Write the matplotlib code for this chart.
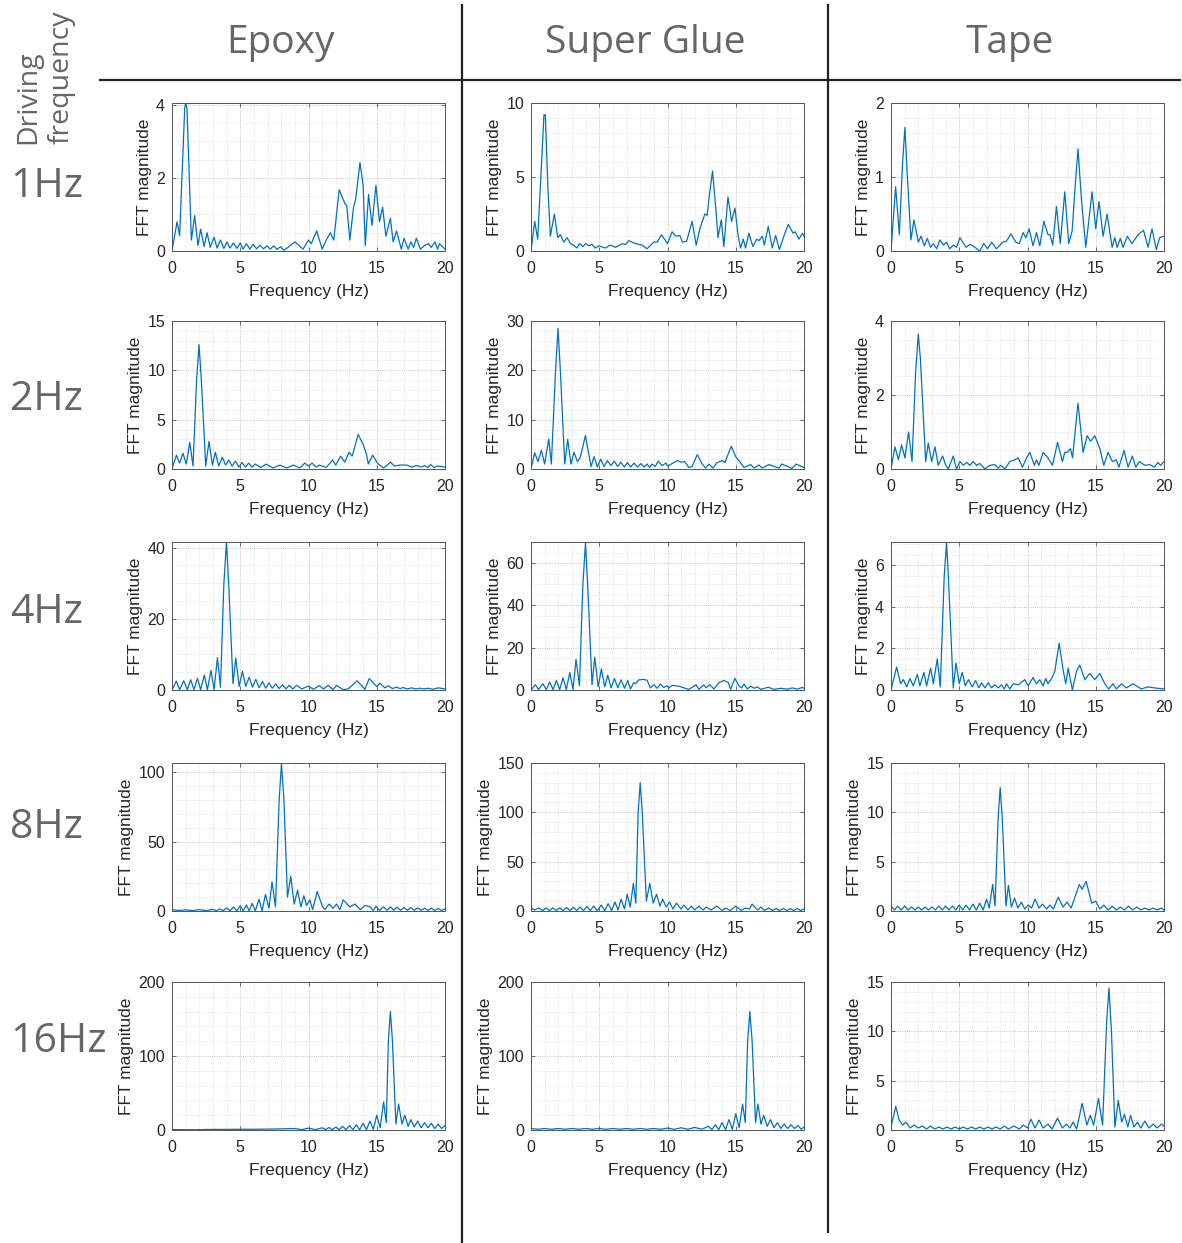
"""FFT magnitude grid: adhesive type (columns) vs driving frequency (rows)."""

import matplotlib
matplotlib.use("Agg")
import matplotlib.pyplot as plt
import numpy as np
from matplotlib.lines import Line2D
from matplotlib.ticker import AutoMinorLocator

W, H = 1182, 1243

MATERIALS = ["Epoxy", "Super Glue", "Tape"]
DRIVING = ["1Hz", "2Hz", "4Hz", "8Hz", "16Hz"]

# (frequency Hz, FFT magnitude)
EPOXY_1HZ = [(0, 0), (0.37, 0.8), (0.56, 0.42), (0.93, 3.9), (1.0, 4.05), (1.1, 3.9), (1.42, 0.3), (1.66, 0.97),
             (1.9, 0.15), (2.1, 0.6), (2.35, 0.12), (2.57, 0.5), (2.8, 0.1), (3.08, 0.38), (3.3, 0.08), (3.55, 0.3),
             (3.8, 0.07), (4.03, 0.25), (4.25, 0.08), (4.5, 0.22), (4.75, 0.07), (5.0, 0.22), (5.2, 0.05), (5.45, 0.2),
             (5.7, 0.05), (5.95, 0.18), (6.2, 0.06), (6.45, 0.16), (6.7, 0.06), (6.95, 0.14), (7.2, 0.05), (7.45, 0.14),
             (7.7, 0.04), (7.95, 0.12), (8.2, 0.02), (8.5, 0.1), (9.0, 0.25), (9.6, 0.05), (10.0, 0.3), (10.2, 0.2),
             (10.6, 0.55), (11.0, 0.05), (11.3, 0.3), (11.6, 0.5), (11.85, 0.3), (12.25, 1.68), (12.66, 1.3),
             (12.8, 1.25), (13.03, 0.3), (13.3, 1.2), (13.45, 1.4), (13.77, 2.42), (14.0, 1.8), (14.16, 0.15),
             (14.4, 1.55), (14.65, 0.7), (14.94, 1.8), (15.2, 0.8), (15.43, 1.2), (15.67, 0.4), (16.0, 0.9),
             (16.2, 0.25), (16.45, 0.55), (16.8, 0.05), (17.0, 0.35), (17.3, 0.05), (17.5, 0.25), (17.7, 0.1),
             (17.9, 0.35), (18.2, 0.05), (18.5, 0.15), (18.8, 0.2), (19.0, 0.1), (19.27, 0.25), (19.45, 0.05),
             (19.6, 0.2), (20.0, 0.05)]
GLUE_1HZ = [(0, 0), (0.27, 2.0), (0.49, 0.8), (0.75, 5.5), (0.95, 9.2), (1.05, 9.2), (1.25, 4.0), (1.42, 1.0),
            (1.71, 2.5), (1.96, 0.9), (2.15, 1.1), (2.4, 0.6), (2.64, 0.9), (2.9, 0.5), (3.1, 0.4), (3.37, 0.2),
            (3.55, 0.5), (3.8, 0.3), (4.0, 0.5), (4.25, 0.35), (4.47, 0.45), (4.7, 0.2), (4.96, 0.35), (5.45, 0.2),
            (5.8, 0.4), (6.2, 0.25), (6.7, 0.5), (6.95, 0.45), (7.16, 0.7), (7.65, 0.5), (8.14, 0.4), (8.5, 0.15),
            (9.0, 0.6), (9.25, 0.6), (9.56, 1.1), (10.0, 0.5), (10.34, 1.3), (10.6, 1.0), (10.9, 1.05), (11.1, 0.6),
            (11.4, 0.65), (11.8, 2.0), (12.1, 0.4), (12.4, 1.6), (12.74, 2.5), (12.9, 2.4), (13.1, 4.0), (13.3, 5.4),
            (13.57, 2.5), (13.7, 0.9), (13.94, 2.1), (14.13, 0.3), (14.43, 3.65), (14.7, 2.0), (14.94, 2.9),
            (15.18, 1.0), (15.35, 0.2), (15.55, 0.8), (15.72, 0.2), (15.96, 1.2), (16.26, 0.3), (16.53, 0.8),
            (16.7, 0.7), (16.94, 1.0), (17.1, 0.4), (17.38, 1.65), (17.68, 0.2), (17.92, 1.05), (18.2, 0.1),
            (18.6, 1.2), (18.85, 1.8), (19.2, 1.2), (19.35, 1.3), (19.63, 0.8), (19.88, 1.2), (20.0, 1.0)]
TAPE_1HZ = [(0, 0), (0.34, 0.87), (0.61, 0.22), (0.85, 1.2), (1.02, 1.67), (1.2, 1.0), (1.46, 0.15), (1.68, 0.42),
            (2.0, 0.12), (2.2, 0.2), (2.44, 0.07), (2.66, 0.17), (2.9, 0.05), (3.1, 0.1), (3.35, 0.03), (3.58, 0.15),
            (3.85, 0.08), (4.07, 0.12), (4.3, 0.03), (4.56, 0.08), (4.8, 0.05), (5.05, 0.18), (5.5, 0.05),
            (5.78, 0.09), (6.0, 0.07), (6.5, 0.0), (6.8, 0.1), (7.07, 0.03), (7.37, 0.12), (7.73, 0.03), (8.2, 0.12),
            (8.45, 0.13), (8.78, 0.23), (9.15, 0.12), (9.4, 0.1), (9.68, 0.25), (9.88, 0.18), (10.12, 0.3),
            (10.4, 0.07), (10.66, 0.25), (10.9, 0.07), (11.2, 0.4), (11.5, 0.22), (11.65, 0.22), (11.85, 0.08),
            (12.12, 0.6), (12.4, 0.1), (12.73, 0.8), (13.02, 0.1), (13.27, 0.27), (13.5, 0.9), (13.7, 1.38),
            (13.95, 0.7), (14.27, 0.05), (14.73, 0.8), (15.0, 0.3), (15.24, 0.67), (15.54, 0.2), (15.83, 0.5),
            (16.2, 0.05), (16.39, 0.18), (16.57, 0.05), (16.8, 0.17), (17.0, 0.05), (17.32, 0.2), (17.65, 0.1),
            (18.1, 0.22), (18.5, 0.28), (18.83, 0.05), (19.12, 0.3), (19.44, 0.02), (19.68, 0.18), (20.0, 0.2)]

EPOXY_2HZ = [(0, 0), (0.32, 1.4), (0.56, 0.6), (0.8, 1.6), (1.05, 0.5), (1.3, 2.7), (1.54, 0.3), (1.8, 9.0),
             (1.98, 12.6), (2.15, 9.0), (2.47, 0.3), (2.71, 2.8), (2.96, 0.4), (3.18, 1.7), (3.42, 0.3), (3.69, 1.2),
             (3.92, 0.4), (4.16, 0.9), (4.4, 0.3), (4.65, 0.8), (4.9, 0.2), (5.13, 0.65), (5.38, 0.2), (5.62, 0.6),
             (5.86, 0.2), (6.1, 0.5), (6.5, 0.15), (6.9, 0.5), (7.4, 0.1), (7.9, 0.4), (8.4, 0.1), (8.9, 0.4),
             (9.35, 0.1), (9.73, 0.6), (10.0, 0.3), (10.27, 0.6), (10.55, 0.2), (10.8, 0.4), (11.3, 0.15),
             (11.76, 0.9), (12.0, 0.4), (12.35, 1.3), (12.66, 0.7), (12.97, 1.7), (13.2, 1.3), (13.64, 3.5),
             (14.0, 2.5), (14.25, 1.5), (14.38, 0.5), (14.7, 1.4), (15.05, 0.6), (15.48, 0.1), (15.7, 0.3),
             (16.0, 0.7), (16.3, 0.3), (16.7, 0.4), (17.2, 0.4), (17.55, 0.2), (17.9, 0.35), (18.3, 0.2), (18.5, 0.35),
             (18.75, 0.15), (18.95, 0.45), (19.2, 0.15), (19.45, 0.3), (20.0, 0.2)]
GLUE_2HZ = [(0, 0), (0.27, 3.3), (0.51, 1.5), (0.76, 3.8), (1.0, 1.0), (1.3, 6.1), (1.49, 1.0), (1.8, 20.0),
            (1.98, 28.5), (2.15, 20.0), (2.47, 1.0), (2.69, 6.0), (2.93, 1.0), (3.15, 3.4), (3.4, 1.5), (3.6, 2.3),
            (3.99, 6.8), (4.2, 3.5), (4.4, 0.5), (4.62, 2.5), (4.86, 0.4), (5.11, 2.0), (5.35, 0.5), (5.6, 1.7),
            (5.85, 0.7), (6.1, 1.6), (6.35, 0.5), (6.58, 1.4), (6.83, 0.4), (7.07, 1.3), (7.3, 0.4), (7.55, 1.2),
            (7.8, 0.4), (8.04, 1.1), (8.3, 0.4), (8.5, 1.0), (8.7, 0.3), (8.87, 1.0), (9.1, 0.5), (9.32, 1.6),
            (9.6, 0.7), (9.9, 1.2), (10.0, 0.6), (10.34, 1.1), (10.7, 1.7), (11.0, 1.4), (11.27, 1.5), (11.56, 0.3),
            (11.8, 0.5), (12.18, 2.9), (12.55, 1.0), (12.8, 0.2), (13.04, 1.0), (13.33, 0.2), (13.64, 1.3),
            (14.0, 1.7), (14.2, 1.3), (14.67, 4.6), (15.0, 2.5), (15.23, 1.7), (15.6, 0.3), (16.1, 0.9), (16.33, 0.2),
            (16.7, 0.8), (16.94, 0.2), (17.43, 0.9), (18.05, 0.3), (18.17, 0.2), (18.36, 1.0), (18.9, 0.4),
            (19.1, 0.1), (19.44, 1.0), (20.0, 0.3)]
TAPE_2HZ = [(0, 0), (0.29, 0.6), (0.54, 0.25), (0.78, 0.65), (1.02, 0.3), (1.29, 1.0), (1.54, 0.2), (1.8, 2.6),
            (2.0, 3.65), (2.15, 3.0), (2.54, 0.2), (2.73, 0.7), (2.98, 0.2), (3.22, 0.6), (3.46, 0.1), (3.78, 0.35),
            (4.02, 0.1), (4.2, 0.0), (4.56, 0.35), (4.8, 0.0), (5.05, 0.2), (5.3, 0.1), (5.54, 0.18), (5.78, 0.1),
            (6.02, 0.2), (6.27, 0.1), (6.5, 0.15), (6.88, 0.0), (7.24, 0.1), (7.6, 0.12), (7.85, 0.02), (8.03, 0.1),
            (8.34, 0.0), (8.7, 0.2), (9.07, 0.25), (9.32, 0.3), (9.63, 0.05), (9.93, 0.3), (10.17, 0.45),
            (10.5, 0.1), (10.66, 0.25), (10.83, 0.1), (11.15, 0.45), (11.5, 0.3), (11.83, 0.1), (12.2, 0.72),
            (12.56, 0.2), (12.73, 0.45), (12.9, 0.45), (13.15, 0.55), (13.3, 0.3), (13.7, 1.78), (14.07, 0.45),
            (14.37, 0.9), (14.63, 0.75), (14.93, 0.9), (15.3, 0.55), (15.59, 0.1), (15.9, 0.45), (16.22, 0.2),
            (16.5, 0.25), (16.7, 0.05), (17.07, 0.5), (17.37, 0.05), (17.68, 0.35), (17.93, 0.05), (18.2, 0.2),
            (18.6, 0.1), (18.95, 0.12), (19.3, 0.05), (19.56, 0.18), (19.75, 0.1), (20.0, 0.2)]

EPOXY_4HZ = [(0, 0), (0.32, 2.5), (0.56, 0.1), (0.86, 2.6), (1.12, 0.1), (1.37, 2.9), (1.61, 0.1), (1.86, 3.3),
             (2.1, 0.1), (2.37, 4.2), (2.59, 0.1), (2.86, 5.5), (3.08, 0.1), (3.33, 9.1), (3.55, 0.8), (3.8, 30.0),
             (3.99, 41.5), (4.15, 30.0), (4.47, 1.8), (4.67, 9.0), (4.92, 1.0), (5.16, 5.3), (5.4, 1.0), (5.65, 3.6),
             (5.9, 0.8), (6.14, 3.0), (6.38, 0.6), (6.63, 2.4), (6.87, 0.5), (7.1, 2.0), (7.35, 0.5), (7.6, 1.7),
             (7.85, 0.4), (8.1, 1.5), (8.35, 0.3), (8.58, 1.3), (8.85, 0.3), (9.12, 1.3), (9.5, 0.3), (10.0, 1.1),
             (10.35, 0.2), (10.8, 1.2), (11.1, 0.3), (11.44, 1.3), (11.8, 0.1), (12.05, 1.3), (12.54, 0.1),
             (12.9, 0.3), (13.57, 2.6), (14.13, 0.2), (14.45, 3.2), (15.0, 1.0), (15.23, 1.9), (15.6, 0.6),
             (15.84, 1.2), (16.15, 0.4), (16.45, 0.8), (16.7, 0.4), (16.95, 0.7), (17.2, 0.3), (17.56, 0.6),
             (17.85, 0.3), (18.17, 0.5), (18.45, 0.3), (18.78, 0.5), (19.1, 0.2), (19.51, 0.6), (20.0, 0.3)]
GLUE_4HZ = [(0, 0), (0.32, 2.5), (0.56, 0.2), (0.86, 3.0), (1.12, 0.2), (1.37, 3.8), (1.61, 0.2), (1.86, 4.5),
            (2.1, 0.2), (2.35, 5.8), (2.59, 0.2), (2.84, 8.3), (3.08, 0.3), (3.3, 14.5), (3.55, 2.0), (3.8, 50.0),
            (3.99, 69.5), (4.15, 50.0), (4.47, 2.5), (4.67, 15.5), (4.92, 1.5), (5.16, 10.0), (5.4, 1.5), (5.62, 7.0),
            (5.87, 1.0), (6.11, 5.5), (6.36, 1.0), (6.6, 4.8), (6.85, 0.8), (7.09, 4.5), (7.28, 0.5), (7.53, 3.5),
            (7.65, 3.0), (7.9, 4.8), (8.26, 5.0), (8.5, 4.6), (8.75, 1.0), (9.0, 2.5), (9.24, 0.8), (9.48, 2.8),
            (9.73, 1.2), (9.97, 2.0), (10.1, 1.0), (10.34, 2.2), (10.83, 1.8), (11.56, 0.3), (12.1, 2.5),
            (12.3, 0.3), (12.66, 2.4), (12.84, 1.0), (13.08, 2.6), (13.4, 0.5), (13.77, 3.5), (14.13, 4.5),
            (14.45, 3.5), (14.62, 0.3), (14.94, 5.5), (15.23, 2.0), (15.43, 1.0), (15.6, 2.8), (15.85, 0.5),
            (16.1, 1.8), (16.35, 0.8), (16.58, 1.5), (16.83, 0.3), (17.38, 1.3), (17.8, 0.3), (18.29, 0.8),
            (18.78, 0.4), (19.14, 1.0), (19.5, 0.4), (19.88, 1.2), (20.0, 0.8)]
TAPE_4HZ = [(0, 0), (0.41, 1.1), (0.71, 0.3), (0.9, 0.5), (1.15, 0.15), (1.39, 0.55), (1.63, 0.2), (1.93, 0.75),
            (2.12, 0.2), (2.41, 0.85), (2.61, 0.2), (2.9, 1.05), (3.1, 0.3), (3.39, 1.5), (3.61, 0.15), (3.9, 5.5),
            (4.07, 7.1), (4.2, 5.5), (4.56, 0.1), (4.76, 1.3), (5.0, 0.3), (5.22, 0.85), (5.44, 0.2), (5.68, 0.5),
            (5.95, 0.15), (6.2, 0.45), (6.44, 0.1), (6.63, 0.35), (6.88, 0.1), (7.12, 0.35), (7.37, 0.1),
            (7.6, 0.25), (7.85, 0.1), (8.1, 0.25), (8.3, 0.05), (8.46, 0.3), (8.7, 0.05), (8.95, 0.3), (9.32, 0.25),
            (9.8, 0.5), (10.05, 0.2), (10.41, 0.6), (10.66, 0.3), (10.9, 0.5), (11.15, 0.2), (11.34, 0.55),
            (11.5, 0.3), (11.76, 0.55), (12.0, 0.9), (12.32, 2.25), (12.6, 1.0), (12.8, 0.3), (12.98, 1.05),
            (13.29, 0.0), (13.59, 0.9), (13.83, 1.2), (14.2, 0.5), (14.56, 0.8), (14.93, 0.5), (15.3, 0.8),
            (15.66, 0.3), (15.95, 0.05), (16.27, 0.3), (16.51, 0.05), (16.88, 0.3), (17.24, 0.1), (17.73, 0.3),
            (18.34, 0.05), (18.83, 0.15), (19.3, 0.1), (20.0, 0.05)]

EPOXY_8HZ = [(0, 1.0), (0.5, 0.3), (1.0, 0.8), (1.5, 0.3), (2.0, 1.0), (2.5, 0.3), (3.0, 1.2), (3.25, 0.2),
             (3.5, 1.5), (3.75, 0.2), (4.0, 2.2), (4.25, 0.2), (4.5, 2.8), (4.75, 0.2), (5.0, 3.8), (5.22, 0.1),
             (5.45, 4.3), (5.65, 0.1), (5.87, 5.5), (6.1, 0.1), (6.38, 8.5), (6.6, 0.1), (6.85, 12.0), (7.1, 2.0),
             (7.33, 21.0), (7.58, 3.0), (7.85, 80.0), (8.02, 106.0), (8.2, 80.0), (8.46, 10.0), (8.7, 25.0),
             (8.95, 5.0), (9.2, 15.0), (9.44, 3.0), (9.66, 11.0), (9.86, 4.0), (10.1, 8.0), (10.3, 1.0),
             (10.64, 14.0), (11.03, 3.0), (11.2, 1.0), (11.5, 5.0), (11.8, 2.0), (12.05, 5.0), (12.3, 1.0),
             (12.54, 8.0), (13.03, 3.0), (13.4, 5.0), (13.8, 1.0), (14.13, 4.0), (14.5, 3.0), (14.74, 0.5),
             (14.95, 3.5), (15.2, 0.5), (15.5, 3.0), (15.75, 0.5), (16.0, 3.0), (16.25, 0.5), (16.5, 2.8),
             (16.75, 0.5), (17.0, 2.5), (17.25, 0.5), (17.5, 2.5), (17.75, 0.5), (18.0, 2.2), (18.25, 0.5),
             (18.5, 2.0), (18.75, 0.4), (19.0, 2.0), (19.25, 0.4), (19.5, 1.8), (19.75, 0.4), (20.0, 1.5)]
GLUE_8HZ = [(0, 3.5), (0.25, 1.0), (0.6, 3.0), (0.85, 0.5), (1.1, 3.0), (1.35, 0.5), (1.6, 3.2), (1.85, 0.5),
            (2.1, 3.2), (2.35, 0.5), (2.6, 3.5), (2.85, 0.5), (3.1, 3.8), (3.35, 0.5), (3.6, 4.0), (3.85, 0.5),
            (4.1, 4.5), (4.35, 0.5), (4.6, 5.0), (4.85, 0.3), (5.15, 6.0), (5.4, 0.3), (5.65, 7.5), (5.9, 0.5),
            (6.15, 9.0), (6.38, 1.0), (6.6, 12.0), (6.85, 2.0), (7.05, 17.0), (7.27, 4.0), (7.5, 28.0), (7.68, 8.0),
            (7.85, 100.0), (8.0, 130.0), (8.15, 100.0), (8.45, 10.0), (8.7, 28.0), (8.95, 8.0), (9.2, 17.0),
            (9.45, 5.0), (9.65, 12.0), (9.9, 4.0), (10.15, 9.0), (10.4, 2.0), (10.65, 8.0), (11.0, 2.0), (11.2, 6.0),
            (11.5, 1.0), (11.75, 5.0), (12.0, 1.0), (12.3, 5.0), (12.6, 1.0), (12.85, 4.0), (13.2, 1.0), (13.6, 5.0),
            (14.0, 0.5), (14.25, 3.0), (14.6, 0.5), (15.0, 5.0), (15.4, 0.5), (15.7, 3.0), (16.0, 2.0), (16.2, 7.0),
            (16.6, 1.0), (16.85, 4.0), (17.1, 0.5), (17.4, 3.0), (17.7, 0.5), (17.95, 2.5), (18.2, 0.5), (18.5, 2.5),
            (18.75, 0.5), (19.0, 2.5), (19.25, 0.5), (19.5, 2.5), (19.75, 0.5), (20.0, 2.0)]
TAPE_8HZ = [(0, 0.5), (0.25, 0.1), (0.5, 0.5), (0.75, 0.1), (1.0, 0.5), (1.25, 0.1), (1.5, 0.4), (1.75, 0.1),
            (2.0, 0.4), (2.25, 0.1), (2.5, 0.4), (2.75, 0.1), (3.0, 0.4), (3.25, 0.1), (3.5, 0.5), (3.75, 0.1),
            (4.0, 0.5), (4.25, 0.1), (4.5, 0.5), (4.75, 0.1), (5.0, 0.6), (5.25, 0.1), (5.5, 0.6), (5.75, 0.1),
            (6.0, 0.7), (6.25, 0.1), (6.5, 0.8), (6.75, 0.1), (7.0, 1.2), (7.2, 0.3), (7.45, 2.7), (7.62, 0.5),
            (7.85, 9.5), (8.0, 12.5), (8.15, 9.5), (8.42, 0.5), (8.6, 2.6), (8.82, 0.4), (9.05, 1.3), (9.3, 0.3),
            (9.55, 0.9), (9.8, 0.2), (10.05, 0.6), (10.3, 0.3), (10.55, 1.2), (10.85, 0.3), (11.1, 0.7), (11.4, 0.2),
            (11.65, 0.6), (11.9, 0.2), (12.25, 1.4), (12.6, 0.4), (12.9, 0.9), (13.2, 0.3), (13.8, 2.7), (14.0, 2.2),
            (14.3, 3.0), (14.7, 0.8), (15.0, 1.0), (15.3, 0.2), (15.6, 0.6), (15.9, 0.1), (16.2, 0.5), (16.5, 0.1),
            (16.8, 0.4), (17.1, 0.1), (17.4, 0.5), (17.7, 0.1), (18.0, 0.4), (18.3, 0.1), (18.6, 0.3), (18.9, 0.1),
            (19.2, 0.3), (19.5, 0.1), (19.8, 0.3), (20.0, 0.1)]

EPOXY_16HZ = [(0, 0.5), (1, 0.5), (2, 0.5), (3, 0.8), (4, 0.8), (5, 1.0), (6, 1.0), (7, 1.2), (8, 1.5), (9, 2.0),
              (9.5, 0.5), (10.0, 2.5), (10.5, 0.5), (11.0, 3.0), (11.25, 0.5), (11.5, 3.5), (11.75, 0.5), (12.0, 4.0),
              (12.25, 0.5), (12.5, 5.0), (12.75, 0.5), (13.0, 6.0), (13.25, 0.5), (13.5, 7.0), (13.75, 0.5),
              (14.0, 9.0), (14.25, 0.5), (14.5, 12.0), (14.75, 1.0), (15.0, 20.0), (15.25, 3.0), (15.5, 38.0),
              (15.7, 10.0), (15.85, 120.0), (16.0, 160.0), (16.15, 120.0), (16.4, 8.0), (16.6, 35.0), (16.85, 8.0),
              (17.05, 20.0), (17.3, 5.0), (17.5, 14.0), (17.75, 4.0), (18.0, 12.0), (18.25, 3.0), (18.5, 10.0),
              (18.75, 3.0), (19.0, 9.0), (19.25, 2.0), (19.5, 8.0), (19.75, 2.0), (20.0, 6.0)]
GLUE_16HZ = [(0, 2), (0.5, 1), (1, 2), (1.5, 1), (2, 2), (2.5, 1), (3, 2), (3.5, 1), (4, 2), (4.5, 1), (5, 2),
             (5.5, 1), (6, 2), (6.5, 1), (7, 2), (7.5, 1), (8, 2), (8.5, 1), (9, 2), (9.5, 1), (10, 2.5), (10.5, 1),
             (11, 3), (11.5, 1), (12, 3.5), (12.5, 1), (13, 5), (13.25, 0.5), (13.5, 7), (13.75, 0.5), (14.0, 10),
             (14.25, 0.5), (14.5, 14), (14.75, 1), (15.0, 22), (15.25, 3), (15.5, 35), (15.7, 10), (15.87, 120),
             (16.03, 160), (16.2, 120), (16.45, 10), (16.62, 35), (16.85, 8), (17.05, 20), (17.3, 5), (17.55, 14),
             (17.8, 3), (18.05, 10), (18.3, 2), (18.55, 8), (18.8, 2), (19.05, 7), (19.3, 2), (19.55, 6), (19.8, 1),
             (20.0, 4)]
TAPE_16HZ = [(0, 0.3), (0.35, 2.4), (0.6, 1.0), (0.85, 0.5), (1.1, 0.8), (1.4, 0.2), (1.7, 0.5), (2.0, 0.2),
             (2.3, 0.4), (2.6, 0.1), (2.9, 0.4), (3.2, 0.1), (3.5, 0.3), (3.8, 0.1), (4.1, 0.3), (4.4, 0.1),
             (4.7, 0.3), (5.0, 0.1), (5.3, 0.3), (5.6, 0.1), (5.9, 0.3), (6.2, 0.1), (6.5, 0.3), (6.8, 0.1),
             (7.1, 0.3), (7.4, 0.1), (7.7, 0.3), (8.0, 0.1), (8.3, 0.4), (8.6, 0.1), (9.0, 0.4), (9.4, 0.1),
             (9.7, 0.5), (10.0, 0.2), (10.25, 1.1), (10.55, 0.2), (10.85, 1.0), (11.15, 0.2), (11.5, 0.6),
             (11.8, 0.1), (12.2, 1.2), (12.55, 0.2), (12.85, 0.6), (13.1, 0.2), (13.35, 0.8), (13.6, 0.1),
             (14.0, 2.7), (14.35, 0.5), (14.6, 1.5), (14.85, 0.5), (15.2, 3.2), (15.5, 0.5), (15.8, 11.0),
             (15.97, 14.4), (16.15, 10.0), (16.4, 0.3), (16.65, 3.0), (16.9, 0.8), (17.1, 1.6), (17.35, 0.3),
             (17.55, 1.5), (17.8, 0.3), (18.05, 0.8), (18.3, 0.2), (18.6, 0.9), (18.9, 0.2), (19.2, 0.6),
             (19.5, 0.2), (19.8, 0.6), (20.0, 0.4)]

SPECTRA = [
    [EPOXY_1HZ, GLUE_1HZ, TAPE_1HZ],
    [EPOXY_2HZ, GLUE_2HZ, TAPE_2HZ],
    [EPOXY_4HZ, GLUE_4HZ, TAPE_4HZ],
    [EPOXY_8HZ, GLUE_8HZ, TAPE_8HZ],
    [EPOXY_16HZ, GLUE_16HZ, TAPE_16HZ],
]
Y_TOP = [[4.05, 10, 2], [15, 30, 4], [41.6, 70, 7.12], [106.5, 150, 15], [200, 200, 15]]
Y_TICKS = [
    [[0, 2, 4], [0, 5, 10], [0, 1, 2]],
    [[0, 5, 10, 15], [0, 10, 20, 30], [0, 2, 4]],
    [[0, 20, 40], [0, 20, 40, 60], [0, 2, 4, 6]],
    [[0, 50, 100], [0, 50, 100, 150], [0, 5, 10, 15]],
    [[0, 100, 200], [0, 100, 200], [0, 5, 10, 15]],
]
X_TICKS = [0, 5, 10, 15, 20]

LINE_COLOR = "#0072BD"
TEXT_COLOR = "#262626"
HEAD_COLOR = "#666666"

COL_LEFT = [172, 531, 891]
ROW_TOP = [103, 321, 542, 763, 982]
AX_W, AX_H = 273, 148

plt.rcParams.update({
    "font.family": ["Liberation Sans", "DejaVu Sans"],
    "font.size": 11.5,
    "axes.linewidth": 0.7,
})

fig = plt.figure(figsize=(W / 100, H / 100), dpi=100)


def px_axes(x, y, w, h):
    return fig.add_axes([x / W, 1 - (y + h) / H, w / W, h / H])


for r, row in enumerate(SPECTRA):
    for c, pts in enumerate(row):
        ax = px_axes(COL_LEFT[c], ROW_TOP[r], AX_W, AX_H)
        arr = np.array(pts, dtype=float)
        ax.plot(arr[:, 0], arr[:, 1], color=LINE_COLOR, lw=0.9)
        ax.set_xlim(0, 20)
        ax.set_ylim(0, Y_TOP[r][c])
        ax.set_xticks(X_TICKS)
        ticks = Y_TICKS[r][c]
        ax.set_yticks(ticks)
        step = ticks[1] - ticks[0]
        n_minor = 4 if str(step)[0] == "2" else 5
        ax.xaxis.set_minor_locator(AutoMinorLocator(5))
        ax.yaxis.set_minor_locator(AutoMinorLocator(n_minor))
        ax.grid(which="major", ls=":", color="#b0b0b0", lw=0.6)
        ax.grid(which="minor", ls=":", color="#cfcfcf", lw=0.5)
        ax.set_axisbelow(True)
        ax.tick_params(which="major", direction="in", length=3, width=0.6, top=True, right=True,
                       labelsize=11.5, labelcolor=TEXT_COLOR, color="#555555")
        ax.tick_params(axis="x", which="major", pad=7)
        ax.tick_params(axis="y", which="major", pad=5)
        ax.tick_params(which="minor", length=0)
        for sp in ax.spines.values():
            sp.set_color("#555555")
        ax.set_xlabel("Frequency (Hz)", fontsize=12.5, color=TEXT_COLOR, labelpad=6)
        ax.set_ylabel("FFT magnitude", fontsize=12.5, color=TEXT_COLOR, labelpad=3)

# column headers and row labels
head_font = ["Open Sans", "DejaVu Sans"]
for name, cx in zip(MATERIALS, [281, 645, 1010]):
    fig.text(cx / W, 1 - 43 / H, name, ha="center", va="center", fontsize=28,
             color=HEAD_COLOR, family=head_font)
for label, cy in zip(DRIVING, [187, 400, 613, 828, 1042]):
    fig.text(10 / W, 1 - cy / H, label, ha="left", va="center", fontsize=29.5,
             color=HEAD_COLOR, family=head_font)
fig.text(45 / W, 1 - 77 / H, "Driving\nfrequency", rotation=90, ha="center", va="center",
         multialignment="left", fontsize=20.5, color=HEAD_COLOR, family=head_font, linespacing=1.25)

# separators
sep = dict(color="#222222", lw=1.6, transform=fig.transFigure)
fig.add_artist(Line2D([100 / W, 1180 / W], [1 - 80 / H, 1 - 80 / H], **sep))
fig.add_artist(Line2D([462 / W, 462 / W], [1 - 5 / H, 0], **sep))
fig.add_artist(Line2D([828 / W, 828 / W], [1 - 5 / H, 1 - 1232 / H], **sep))

fig.savefig("out.png", dpi=100)
